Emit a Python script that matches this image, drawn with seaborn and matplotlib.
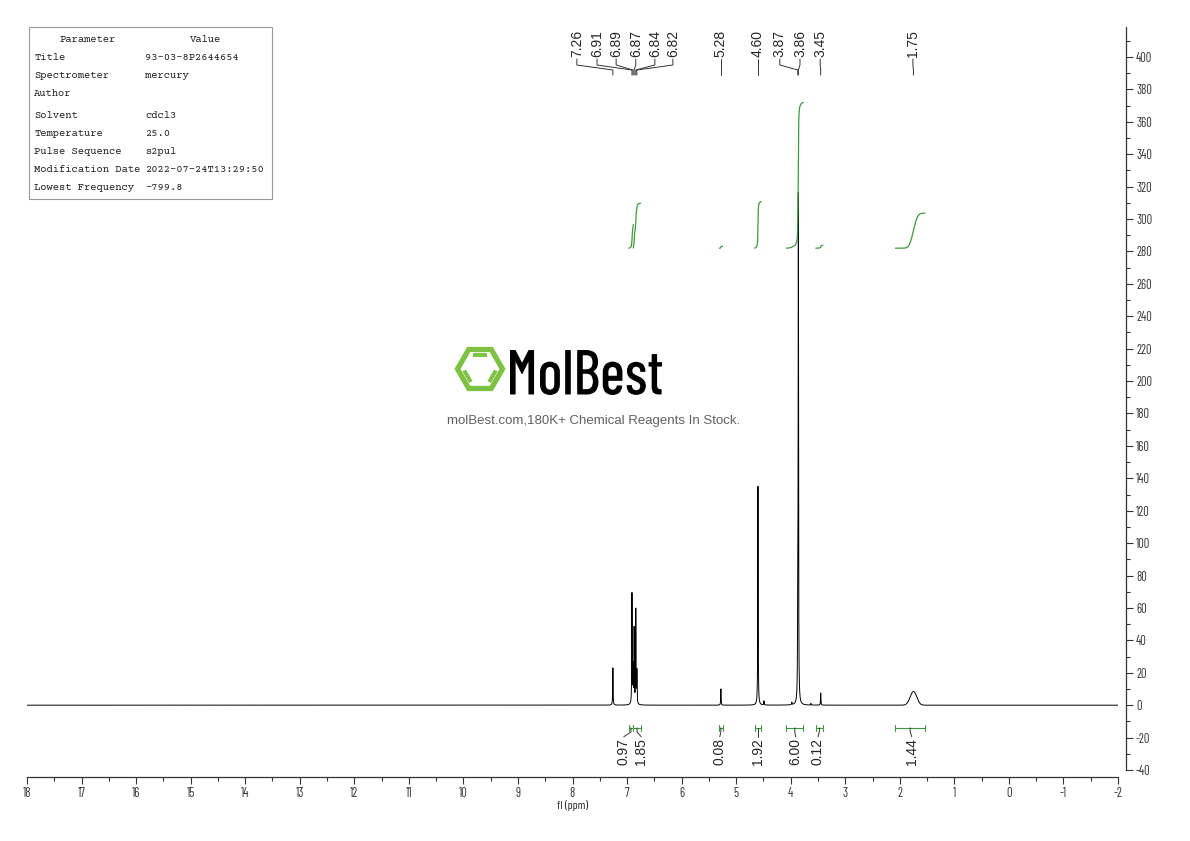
import numpy as np
import pandas as pd
import matplotlib
matplotlib.use('Agg')
import matplotlib.pyplot as plt
import seaborn as sns
from matplotlib.font_manager import FontProperties
from matplotlib.patches import Rectangle, RegularPolygon, PathPatch
from matplotlib.lines import Line2D
from matplotlib.textpath import TextPath
from matplotlib.transforms import Affine2D

# ---- data ----
peak_ppm = [7.26, 6.91, 6.89, 6.87, 6.84, 6.82, 5.28, 4.60, 4.49, 3.98, 3.87, 3.86, 3.63, 3.45]
peak_height = [23, 68, 22, 46, 58, 20, 10, 135, 2.5, 1.5, 60, 308, 1.0, 7.5]
peak_hwhm = 0.004
broad_ppm = 1.75
broad_height = 8.5
broad_sigma = 0.06

peak_labels = ['7.26', '6.91', '6.89', '6.87', '6.84', '6.82', '5.28', '4.60', '3.87', '3.86', '3.45', '1.75']
# where the labels sit (spread apart)
peak_label_x = [7.92, 7.55, 7.20, 6.84, 6.49, 6.16, 5.28, 4.60, 4.20, 3.83, 3.46, 1.76]

int_from = [6.97, 6.885, 5.31, 4.66, 4.08, 3.54, 2.08]
int_to = [6.885, 6.75, 5.25, 4.54, 3.77, 3.41, 1.54]
int_value = [0.97, 1.85, 0.08, 1.92, 6.00, 0.12, 1.44]
int_label_x = [7.06, 6.74, 5.30, 4.60, 3.91, 3.50, 1.78]

params = ['Title', 'Spectrometer', 'Author', 'Solvent', 'Temperature', 'Pulse Sequence',
          'Modification Date', 'Lowest Frequency']
values = ['93-03-8P2644654', 'mercury', '', 'cdcl3', '25.0', 's2pul',
          '2022-07-24T13:29:50', '-799.8']

# ---- build spectrum ----
ppm = np.linspace(18, -2, 40001)
inten = np.zeros_like(ppm)
for p, h in zip(peak_ppm, peak_height):
    inten += h / (1 + ((ppm - p) / peak_hwhm) ** 2)
inten += broad_height * np.exp(-0.5 * ((ppm - broad_ppm) / broad_sigma) ** 2)
spec = pd.DataFrame({'ppm': ppm, 'intensity': inten})

sns.set_style('ticks')
plt.rcParams['axes.unicode_minus'] = False
narrow = ['Barlow Condensed', 'DejaVu Sans']
sans = ['Liberation Sans', 'DejaVu Sans']
mono = ['Courier Prime', 'Liberation Mono', 'DejaVu Sans Mono']

W, H = 1190, 841
fig = plt.figure(figsize=(W / 100, H / 100), dpi=100)
ax = fig.add_axes([27 / W, 1 - 770 / H, (1118 - 27) / W, (770 - 27) / H])

sns.lineplot(data=spec, x='ppm', y='intensity', ax=ax, color='black', lw=0.7,
             estimator=None, sort=False)

ax.set_xlim(18, -2)
ax.set_ylim(-40, 418.5)
for s in ['left', 'top']:
    ax.spines[s].set_visible(False)
ax.spines['bottom'].set_position(('outward', 5))
ax.spines['right'].set_position(('outward', 6))
for s in ['bottom', 'right']:
    ax.spines[s].set_linewidth(0.9)
    ax.spines[s].set_color('#333333')
ax.yaxis.tick_right()
ax.set_yticks(range(-40, 401, 20))
ax.set_yticks(range(-40, 411, 10), minor=True)
ax.set_xticks(range(-2, 19))
ax.set_xticks(np.arange(-2, 18.01, 0.5), minor=True)
ax.set_xticklabels([str(v) for v in range(-2, 19)])
ax.tick_params(which='major', length=5, width=0.8, color='#333333', pad=2)
ax.tick_params(which='minor', length=3, width=0.8, color='#333333')
for lab in ax.get_xticklabels() + ax.get_yticklabels():
    lab.set_family(narrow)
    lab.set_fontsize(9)
    lab.set_color('#333333')
ax.set_xlabel('fl (ppm)', family=narrow, fontsize=8.5, labelpad=0)
ax.set_ylabel('')

# ---- peak labels with leader lines ----
def fy(py):
    return 1 - (py - 27) / 743

tr = ax.get_xaxis_transform()
for lab, lx in zip(peak_labels, peak_label_x):
    px = float(lab)
    ax.text(lx, fy(57), lab, rotation=90, ha='center', va='bottom', fontsize=10,
            family=sans, transform=tr)
    ax.plot([lx, lx, px, px], [fy(59), fy(65), fy(70), fy(75)], color='#333333',
            lw=0.7, transform=tr, clip_on=False)

# ---- integrals ----
green = '#3c9a3c'
for a, b, v, lx in zip(int_from, int_to, int_value, int_label_x):
    m = (spec['ppm'] <= a) & (spec['ppm'] >= b)
    seg = spec[m]
    cum = seg['intensity'].cumsum()
    cum = cum / cum.iloc[-1] * v * 15 + 282
    ax.plot(seg['ppm'], cum, color=green, lw=0.9)
    ax.plot([a, b], [-14, -14], color=green, lw=0.8)
    ax.plot([a, a], [-16, -12], color=green, lw=0.8)
    ax.plot([b, b], [-16, -12], color=green, lw=0.8)
    c = (a + b) / 2
    ax.plot([c, c, lx], [-14, -16.5, -19.5], color='#333333', lw=0.7)
    ax.text(lx, -37, f'{v:.2f}', rotation=90, ha='center', va='bottom', fontsize=10,
            family=sans)

# ---- watermark logo ----
lg = '#7dc243'
cx, cy, R = 4.80, (H - 369) / 100, 0.225
hexp = RegularPolygon((cx, cy), 6, radius=R, orientation=np.pi / 6, fill=False,
                      edgecolor=lg, lw=3.8, transform=fig.dpi_scale_trans)
fig.add_artist(hexp)
for a0 in [60, 180, 300]:
    t0, t1 = np.radians(a0), np.radians(a0 + 60)
    r = 0.74 * R
    p0 = np.array([cx + r * np.cos(t0), cy + r * np.sin(t0)])
    p1 = np.array([cx + r * np.cos(t1), cy + r * np.sin(t1)])
    mid = (p0 + p1) / 2
    q0 = mid + (p0 - mid) * 0.8
    q1 = mid + (p1 - mid) * 0.8
    fig.add_artist(Line2D([q0[0], q1[0]], [q0[1], q1[1]], color=lg, lw=2.8,
                          solid_capstyle='butt', transform=fig.dpi_scale_trans))

# condensed word mark: squeeze a text path into the logo box
tp = TextPath((0, 0), 'MolBest', size=1,
              prop=FontProperties(family=['Barlow Condensed', 'DejaVu Sans'], weight='medium'))
bb = tp.get_extents()
x0, x1, ytop, ybot = 510, 662, 350, 395
sx = (x1 - x0) / 100 / bb.width
sy = (ybot - ytop) / 100 / bb.height
tf = Affine2D().translate(-bb.x0, -bb.y0).scale(sx, sy).translate(x0 / 100, (H - ybot) / 100)
fig.add_artist(PathPatch(tf.transform_path(tp), facecolor='black', edgecolor='none',
                         transform=fig.dpi_scale_trans))
fig.text(594 / W, 1 - 421 / H, 'molBest.com,180K+ Chemical Reagents In Stock.',
         ha='center', va='center', fontsize=9.5, family=sans, color='#606060')

# ---- parameter table ----
fig.add_artist(Rectangle((29 / W, 1 - 199 / H), 243 / W, 172 / H, fill=False,
                         edgecolor='#999999', lw=0.8, transform=fig.transFigure))
fs_tab = 7.6
fig.text(88 / W, 1 - 39 / H, 'Parameter', ha='center', va='center', fontsize=fs_tab,
         family=mono, color='#222222')
fig.text(206 / W, 1 - 39 / H, 'Value', ha='center', va='center', fontsize=fs_tab,
         family=mono, color='#222222')
row_y = [57, 75, 93, 115, 133, 151, 169, 187]
for yy, p, v in zip(row_y, params, values):
    fig.text(34 / W, 1 - yy / H, p, ha='left', va='center', fontsize=fs_tab,
             family=mono, color='#222222')
    fig.text(145 / W, 1 - yy / H, v, ha='left', va='center', fontsize=fs_tab,
             family=mono, color='#222222')

fig.savefig('out.png', dpi=100)
